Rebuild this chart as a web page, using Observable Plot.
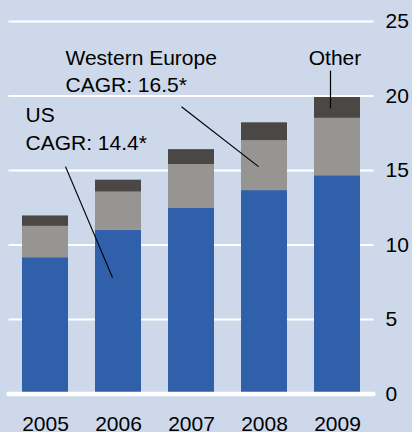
<!DOCTYPE html>
<html>
<head>
<meta charset="utf-8">
<script src="https://cdn.jsdelivr.net/npm/d3@7"></script>
<script src="https://cdn.jsdelivr.net/npm/@observablehq/plot@0.6"></script>
<style>
  html, body { margin: 0; padding: 0; background: #cdd8ea; }
</style>
</head>
<body>
<div id="chart"></div>
<script>
const years = [2005, 2006, 2007, 2008, 2009];
const series = ["US", "Western Europe", "Other"];
const usValues = [9.15, 11.0, 12.45, 13.65, 14.65];
const weValues = [2.1, 2.55, 2.95, 3.35, 3.85];
const otherValues = [0.7, 0.8, 1.0, 1.2, 1.4];
const colors = ["#3160ab", "#979591", "#4b4745"];
const yTicks = [0, 5, 10, 15, 20, 25];

const leftLabels = [
  {x: 2005.274, y: 23.37, text: "Western Europe\nCAGR: 16.5*"},
  {x: 2004.726, y: 19.54, text: "US\nCAGR: 14.4*"}
];
const centerLabels = [
  {x: 2008.966, y: 23.37, text: "Other"}
];
const leaders = [
  {x1: 2005.274, y1: 15.26, x2: 2005.918, y2: 7.81},
  {x1: 2006.863, y1: 19.28, x2: 2007.918, y2: 15.26},
  {x1: 2008.904, y1: 21.7, x2: 2008.904, y2: 19.17}
];

const valuesBySeries = [usValues, weValues, otherValues];
const data = [];
series.forEach((s, i) => years.forEach((yr, j) => data.push({year: yr, series: s, value: valuesBySeries[i][j]})));

const halfWidth = 0.315;

const chart = Plot.plot({
  width: 412,
  height: 432,
  marginLeft: 8.5,
  marginRight: 38.5,
  marginTop: 21,
  marginBottom: 38.5,
  style: {background: "#cdd8ea", fontFamily: "'Liberation Sans', Arial, sans-serif", fontSize: "21px", color: "#000"},
  x: {domain: [2004.5, 2009.5], axis: null},
  y: {domain: [0, 25], axis: null},
  color: {domain: series, range: colors},
  marks: [
    Plot.ruleY(yTicks.filter(d => d > 0), {stroke: "white", strokeWidth: 2}),
    Plot.rectY(data, {
      x1: d => d.year - halfWidth,
      x2: d => d.year + halfWidth,
      y: "value",
      fill: "series"
    }),
    Plot.ruleY([0], {stroke: "white", strokeWidth: 4.5, strokeLinecap: "round"}),
    Plot.axisX(years, {tickSize: 0, tickPadding: 22, tickFormat: d => String(d), fontSize: 21, fill: "#000"}),
    Plot.axisY(yTicks, {anchor: "right", tickSize: 0, tickPadding: 11.5, textAnchor: "start", fontSize: 21, fill: "#000"}),
    Plot.link(leaders, {x1: "x1", y1: "y1", x2: "x2", y2: "y2", stroke: "#000", strokeWidth: 1.2}),
    Plot.text(leftLabels, {x: "x", y: "y", text: "text", textAnchor: "start", lineAnchor: "top", lineHeight: 1.3, fontSize: 21, fill: "#000"}),
    Plot.text(centerLabels, {x: "x", y: "y", text: "text", textAnchor: "middle", lineAnchor: "top", lineHeight: 1.3, fontSize: 21, fill: "#000"})
  ]
});
document.getElementById("chart").appendChild(chart);
</script>
</body>
</html>
